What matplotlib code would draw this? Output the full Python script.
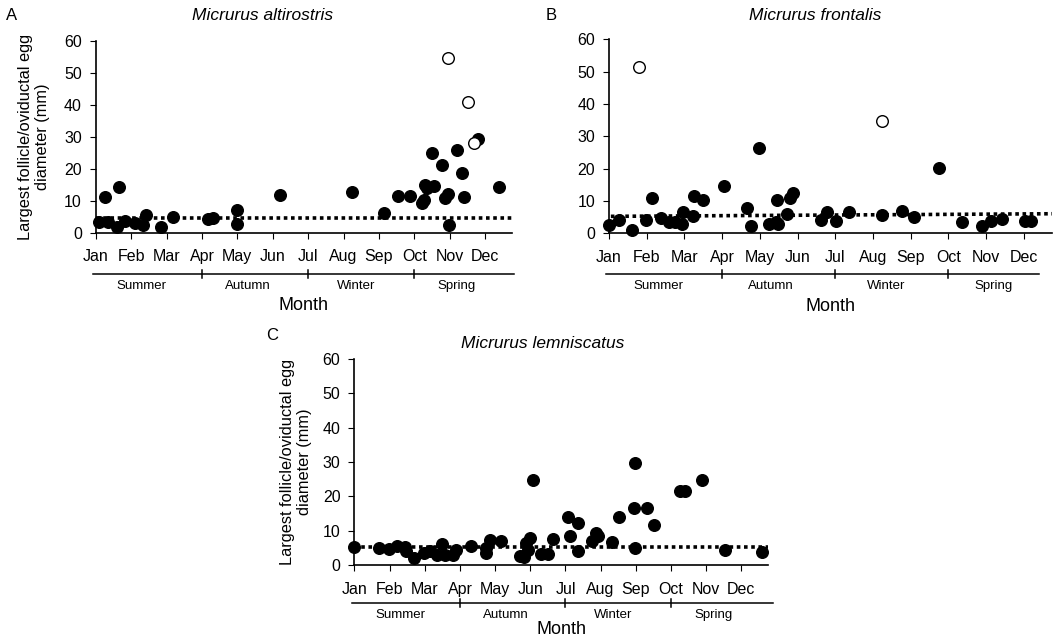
import matplotlib.pyplot as plt
from matplotlib import transforms

plt.rcParams['font.family'] = ['Liberation Sans', 'DejaVu Sans']

months = ['Jan', 'Feb', 'Mar', 'Apr', 'May', 'Jun', 'Jul', 'Aug', 'Sep', 'Oct', 'Nov', 'Dec']
seasons = ['Summer', 'Autumn', 'Winter', 'Spring']
season_x = [1.3, 4.3, 7.35, 10.2]
season_breaks = [3, 6, 9]

# month position (Jan = 0) and largest follicle / egg diameter (mm)
alt_x = [0.08, 0.26, 0.36, 0.59, 0.66, 0.83, 1.11, 1.33, 1.41, 1.85, 2.18, 3.18, 3.32, 4.0, 4.0,
         5.21, 7.23, 8.15, 8.55, 8.88, 9.21, 9.26, 9.3, 9.35, 9.49, 9.54, 9.78, 9.87, 9.96, 9.99,
         10.2, 10.34, 10.39, 10.81, 11.39]
alt_y = [3.4, 11.2, 3.4, 1.9, 14.2, 3.8, 3.1, 2.4, 5.5, 1.7, 5.0, 4.2, 4.6, 7.1, 2.7,
         11.7, 12.7, 6.0, 11.5, 11.5, 9.4, 10.2, 14.9, 14.1, 25.0, 14.7, 21.1, 10.9, 12.1, 2.4,
         26.0, 18.7, 11.0, 29.2, 14.4]
alt_open_x = [9.94, 10.51, 10.67]
alt_open_y = [54.5, 40.9, 28.1]
alt_ref = [4.6, 4.6]

fro_x = [0.01, 0.27, 0.62, 0.98, 1.13, 1.38, 1.58, 1.75, 1.93, 1.97, 2.24, 2.26, 2.5, 3.05,
         3.67, 3.76, 3.98, 4.25, 4.44, 4.46, 4.49, 4.71, 4.81, 4.88, 5.61, 5.77, 6.03, 6.36,
         7.25, 7.78, 8.09, 8.74, 9.36, 9.9, 10.14, 10.43, 11.04, 11.2]
fro_y = [2.6, 4.1, 1.0, 4.1, 10.8, 4.6, 3.3, 3.3, 2.8, 6.6, 5.3, 11.5, 10.3, 14.7,
         7.7, 2.3, 26.2, 2.8, 3.3, 10.3, 2.8, 6.0, 10.8, 12.3, 4.1, 6.6, 3.9, 6.6,
         5.5, 7.0, 5.1, 20.3, 3.4, 2.1, 3.6, 4.3, 3.6, 3.6]
fro_open_x = [0.8, 7.23]
fro_open_y = [51.4, 34.7]
fro_ref = [5.2, 6.0]

lem_x = [0.0, 0.7, 0.99, 1.2, 1.44, 1.46, 1.7, 1.98, 2.15, 2.36, 2.5, 2.57, 2.8, 2.9, 3.31,
         3.73, 3.75, 3.85, 4.18, 4.7, 4.82, 4.89, 4.93, 5.0, 5.08, 5.31, 5.5, 5.64, 6.07, 6.12,
         6.35, 6.35, 6.76, 6.87, 6.92, 7.32, 7.51, 7.96, 7.98, 7.98, 8.32, 8.52, 9.26, 9.4,
         9.88, 10.53, 11.6]
lem_y = [5.1, 4.9, 4.6, 5.5, 5.3, 4.1, 2.1, 3.6, 4.1, 2.9, 6.1, 2.9, 2.9, 4.4, 5.6,
         3.4, 5.0, 7.3, 6.9, 2.6, 2.2, 6.3, 4.4, 7.8, 24.8, 3.1, 3.1, 7.7, 14.1, 8.5,
         12.1, 4.2, 7.1, 9.2, 8.4, 6.6, 13.9, 16.5, 29.8, 5.0, 16.7, 11.7, 21.4, 21.4,
         24.8, 4.4, 3.9]
lem_ref = [5.3, 5.3]

W, H = 1060, 644
fig = plt.figure(figsize=(W / 100, H / 100), dpi=100)


def panel(rect, xs, ys, ox, oy, ref, ref_x0, title, title_xy, letter, letter_xy,
          ylab_x=None, line_end=11.8, bar_off=41, month_off=32):
    ax = fig.add_axes(rect)
    ax_h = rect[3] * H
    ax.scatter(xs, ys, s=70, color='black', zorder=3, clip_on=False)
    if ox:
        ax.scatter(ox, oy, s=70, facecolor='white', edgecolor='black', linewidth=1,
                   zorder=3, clip_on=False)
    ax.plot([ref_x0, 11.75], ref, color='black', ls=(0, (1, 1)), lw=2.6, zorder=2)
    ax.set_xlim(0, 11.75)
    ax.set_ylim(0, 60)
    ax.set_yticks(range(0, 61, 10))
    ax.set_xticks(range(12))
    ax.set_xticklabels(months)
    ax.tick_params(axis='x', direction='out', length=4, pad=8, labelsize=11.5)
    ax.tick_params(axis='y', direction='out', length=4, pad=6, labelsize=11.5)
    for s in ['top', 'right']:
        ax.spines[s].set_visible(False)
    for s in ['left', 'bottom']:
        ax.spines[s].set_linewidth(1.2)

    # season bar below the month labels
    tr = transforms.blended_transform_factory(ax.transData, ax.transAxes)
    yl = -bar_off / ax_h
    ax.plot([-0.07, line_end], [yl, yl], color='black', lw=1.1, transform=tr, clip_on=False)
    for b in season_breaks:
        ax.plot([b, b], [yl - 4 / ax_h, yl + 4 / ax_h], color='black', lw=1.1,
                transform=tr, clip_on=False)
    for sx, name in zip(season_x, seasons):
        ax.text(sx, yl - 12 / ax_h, name, transform=tr, ha='center', va='center', fontsize=9.5)
    ax.text(0.5, yl - month_off / ax_h, 'Month', transform=ax.transAxes, ha='center',
            va='center', fontsize=13)

    fig.text(title_xy[0] / W, 1 - title_xy[1] / H, title, style='italic', fontsize=12.5,
             ha='center', va='center')
    fig.text(letter_xy[0] / W, 1 - letter_xy[1] / H, letter, fontsize=12, ha='center',
             va='center')
    if ylab_x is not None:
        fig.text(ylab_x / W, rect[1] + rect[3] / 2,
                 'Largest follicle/oviductal egg\ndiameter (mm)', rotation=90,
                 ha='center', va='center', fontsize=11.8, linespacing=1.1)
    return ax


panel([0.0903, 0.6387, 0.3925, 0.298], alt_x, alt_y, alt_open_x, alt_open_y, alt_ref, 0.0,
      'Micrurus altirostris', (263, 15), 'A', (12, 15), ylab_x=34, line_end=11.8)
panel([0.5745, 0.638, 0.418, 0.301], fro_x, fro_y, fro_open_x, fro_open_y, fro_ref, 0.05,
      'Micrurus frontalis', (815, 15), 'B', (551, 15), line_end=11.4)
panel([0.3343, 0.1227, 0.390, 0.320], lem_x, lem_y, None, None, lem_ref, 0.0,
      'Micrurus lemniscatus', (543, 343), 'C', (272, 335), ylab_x=296, line_end=11.9,
      bar_off=38, month_off=27)

fig.savefig('out.png', dpi=100)
